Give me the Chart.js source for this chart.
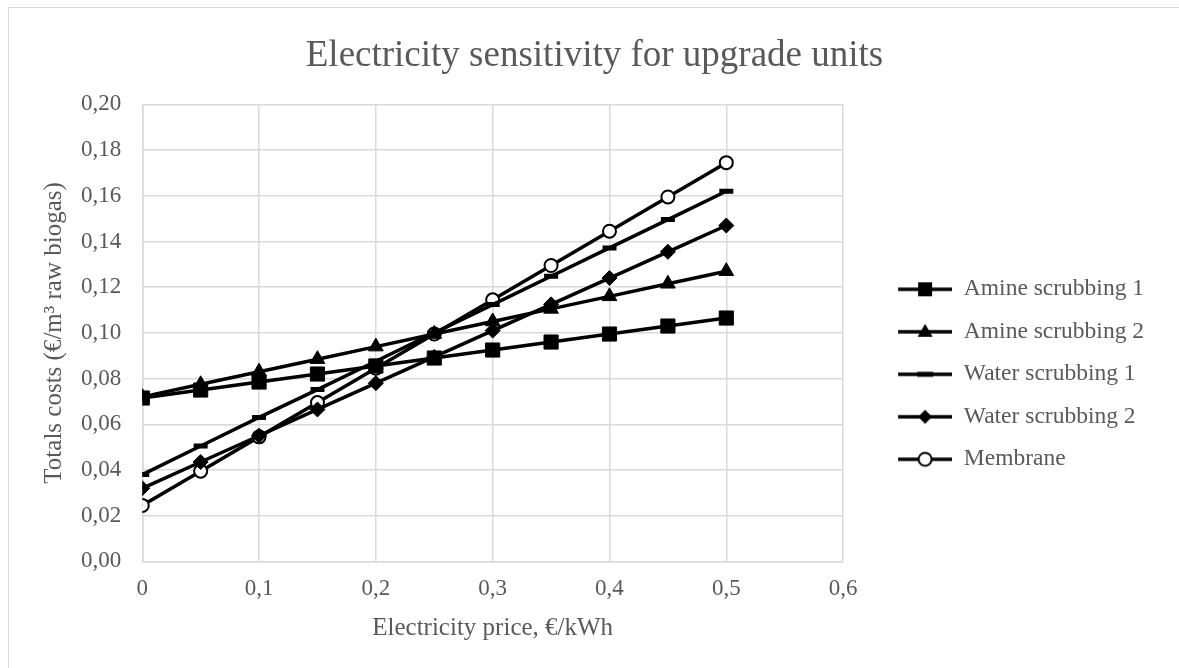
<!DOCTYPE html>
<html>
<head>
<meta charset="utf-8">
<script src="https://cdn.jsdelivr.net/npm/chart.js@4.4.0/dist/chart.umd.min.js"></script>
<style>
html, body { margin: 0; padding: 0; background: #fff; }
#wrap { position: relative; width: 1179px; height: 668px; overflow: hidden; }
#frame { position: absolute; left: 8px; top: 7px; width: 1300px; height: 800px; border-left: 1.5px solid #d9d9d9; border-top: 1.5px solid #d9d9d9; }
canvas { position: absolute; left: 0; top: 0; }
</style>
</head>
<body>
<div id="wrap">
	<div id="frame"></div>
	<canvas id="chart" width="1179" height="668"></canvas>
</div>
<script>
// electricity price, €/kWh
let prices = [0, 0.05, 0.1, 0.15, 0.2, 0.25, 0.3, 0.35, 0.4, 0.45, 0.5];

// total costs, €/m3 raw biogas
let amine1 = [0.0715, 0.075, 0.0785, 0.082, 0.0855, 0.089, 0.0925, 0.096, 0.0995, 0.103, 0.1065];
let amine2 = [0.072, 0.0775, 0.083, 0.0885, 0.094, 0.0995, 0.105, 0.1105, 0.116, 0.1215, 0.127];
let water1 = [0.038, 0.0505, 0.063, 0.0752, 0.0876, 0.1, 0.1124, 0.1248, 0.1372, 0.1496, 0.162];
let water2 = [0.032, 0.0435, 0.055, 0.0665, 0.078, 0.0895, 0.101, 0.1125, 0.124, 0.1355, 0.147];
let membrane = [0.0245, 0.0395, 0.0545, 0.0695, 0.0845, 0.0995, 0.1145, 0.1295, 0.1445, 0.1595, 0.1745];

let seriesNames = ['Amine scrubbing 1', 'Amine scrubbing 2', 'Water scrubbing 1', 'Water scrubbing 2', 'Membrane'];

const GRAY = '#595959';
const GRID = '#d9d9d9';
const FONT = '"Liberation Serif", "Times New Roman", serif';

function toPoints(values) {
	return values.map((v, i) => ({ x: prices[i], y: v }));
}

function comma(v, digits) {
	return Number(v).toFixed(digits).replace('.', ',');
}

// legend sample: line with the marker in the middle
function legendIcon(kind) {
	let c = document.createElement('canvas');
	c.width = 90;
	c.height = 22;
	let g = c.getContext('2d');
	let cx = 63, cy = 11;
	g.strokeStyle = '#000';
	g.fillStyle = '#000';
	g.lineWidth = 3.5;
	g.beginPath();
	g.moveTo(36, cy);
	g.lineTo(90, cy);
	g.stroke();
	g.beginPath();
	if (kind === 'rect') {
		g.fillRect(cx - 7, cy - 7, 14, 14);
	} else if (kind === 'triangle') {
		g.moveTo(cx, cy - 8);
		g.lineTo(cx + 7.5, cy + 5);
		g.lineTo(cx - 7.5, cy + 5);
		g.closePath();
		g.fill();
	} else if (kind === 'line') {
		g.fillRect(cx - 8, cy - 2.5, 16, 5);
	} else if (kind === 'rectRot') {
		g.moveTo(cx, cy - 7);
		g.lineTo(cx + 7, cy);
		g.lineTo(cx, cy + 7);
		g.lineTo(cx - 7, cy);
		g.closePath();
		g.fill();
	} else {
		g.fillStyle = '#fff';
		g.lineWidth = 2;
		g.arc(cx, cy, 6.5, 0, Math.PI * 2);
		g.fill();
		g.stroke();
	}
	return c;
}

let markerKinds = ['rect', 'triangle', 'line', 'rectRot', 'circle'];
let icons = markerKinds.map(legendIcon);

function dataset(i, values, extra) {
	return Object.assign({
		label: seriesNames[i],
		data: toPoints(values),
		borderColor: '#000',
		backgroundColor: '#000',
		borderWidth: 3.5,
		pointStyle: markerKinds[i],
		pointBackgroundColor: '#000',
		pointBorderColor: '#000',
		pointBorderWidth: 1,
		pointRadius: 7,
		pointHoverRadius: 7,
		tension: 0
	}, extra);
}

new Chart(document.getElementById('chart'), {
	type: 'line',
	data: {
		datasets: [
			dataset(0, amine1, { pointRadius: 10 }),
			dataset(1, amine2, { pointRadius: 8.5 }),
			dataset(2, water1, { pointRadius: 7, pointBorderWidth: 5 }),
			dataset(3, water2, { pointRadius: 7.5 }),
			dataset(4, membrane, { pointRadius: 6.5, pointBackgroundColor: '#fff', pointBorderWidth: 2 })
		]
	},
	options: {
		responsive: false,
		animation: false,
		devicePixelRatio: 1,
		layout: { padding: { top: 14, left: 35, right: 25, bottom: 21 } },
		plugins: {
			title: {
				display: true,
				text: 'Electricity sensitivity for upgrade units',
				color: GRAY,
				font: { family: FONT, size: 37, weight: 'normal' },
				padding: { top: 20, bottom: 26 }
			},
			legend: {
				position: 'right',
				maxWidth: 400,
				title: {
					display: true,
					text: '',
					font: { size: 13 },
					padding: { top: 0, bottom: 72 }
				},
				labels: {
					usePointStyle: true,
					pointStyleWidth: 90,
					padding: 19,
					color: GRAY,
					font: { family: FONT, size: 23.5 },
					generateLabels: function(chart) {
						let items = Chart.defaults.plugins.legend.labels.generateLabels(chart);
						items.forEach((item, i) => { item.pointStyle = icons[i]; });
						return items;
					}
				}
			},
			tooltip: { enabled: false }
		},
		scales: {
			x: {
				type: 'linear',
				min: 0,
				max: 0.6,
				ticks: {
					stepSize: 0.1,
					color: GRAY,
					padding: 14,
					font: { family: FONT, size: 23 },
					callback: (v) => v === 0 ? '0' : comma(v, 1)
				},
				grid: { color: GRID, lineWidth: 1.5, drawTicks: false },
				border: { color: GRID, width: 1.5 },
				title: {
					display: true,
					text: 'Electricity price, €/kWh',
					color: GRAY,
					font: { family: FONT, size: 25 },
					padding: { top: -4 }
				}
			},
			y: {
				min: 0,
				max: 0.2,
				ticks: {
					stepSize: 0.02,
					color: GRAY,
					padding: 21,
					font: { family: FONT, size: 23 },
					callback: (v) => comma(v, 2)
				},
				grid: { color: GRID, lineWidth: 1.5, drawTicks: false },
				border: { color: GRID, width: 1.5 },
				title: {
					display: true,
					text: 'Totals costs (€/m³ raw biogas)',
					color: GRAY,
					font: { family: FONT, size: 25 },
					padding: { top: 4, bottom: -9 }
				}
			}
		}
	}
});
</script>
</body>
</html>
